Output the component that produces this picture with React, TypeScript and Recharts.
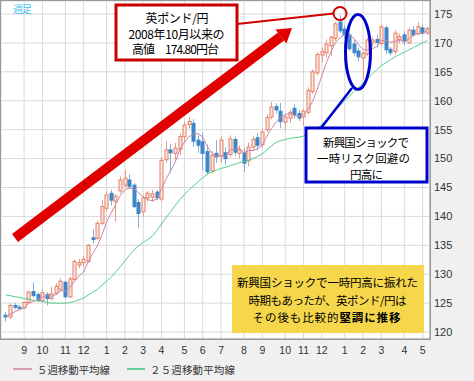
import React from 'react';
import { ComposedChart, Bar, Line, XAxis, YAxis, CartesianGrid } from 'recharts';

const weeks = [
  '12/08/06','12/08/13','12/08/20','12/08/27','12/09/03','12/09/10','12/09/17','12/09/24','12/10/01','12/10/08',
  '12/10/15','12/10/22','12/10/29','12/11/05','12/11/12','12/11/19','12/11/26','12/12/03','12/12/10','12/12/17',
  '12/12/24','12/12/31','13/01/07','13/01/14','13/01/21','13/01/28','13/02/04','13/02/11','13/02/18','13/02/25',
  '13/03/04','13/03/11','13/03/18','13/03/25','13/04/01','13/04/08','13/04/15','13/04/22','13/04/29','13/05/06',
  '13/05/13','13/05/20','13/05/27','13/06/03','13/06/10','13/06/17','13/06/24','13/07/01','13/07/08','13/07/15',
  '13/07/22','13/07/29','13/08/05','13/08/12','13/08/19','13/08/26','13/09/02','13/09/09','13/09/16','13/09/23',
  '13/09/30','13/10/07','13/10/14','13/10/21','13/10/28','13/11/04','13/11/11','13/11/18','13/11/25','13/12/02',
  '13/12/09','13/12/16','13/12/23','13/12/30','14/01/06','14/01/13','14/01/20','14/01/27','14/02/03','14/02/10',
  '14/02/17','14/02/24','14/03/03','14/03/10','14/03/17','14/03/24','14/03/31','14/04/07','14/04/14','14/04/21',
  '14/04/28','14/05/05','14/05/12'
];

const opens = [
  122.9,122.6,124.6,124.3,124.2,125.1,127.0,126.5,125.4,126.5,
  125.8,126.7,127.4,128.6,126.1,129.1,131.6,132.0,132.2,136.3,
  136.2,138.8,141.4,144.0,142.6,144.4,145.4,146.3,145.4,142.4,
  140.8,143.2,143.3,144.2,143.0,149.8,151.5,150.9,151.6,153.8,
  155.9,156.1,153.2,152.9,151.2,147.9,150.9,150.4,151.0,150.7,
  153.3,150.9,151.0,149.6,152.0,153.6,152.4,155.0,157.2,159.0,
  158.2,156.3,157.0,158.7,157.8,157.2,158.0,161.6,164.8,167.9,
  168.3,169.5,170.8,173.6,172.4,171.4,169.8,168.6,167.4,168.1,
  170.1,170.6,169.9,172.6,168.9,168.5,170.6,171.4,170.0,172.2,
  171.6,172.6,171.7
];

const highs = [
  123.4,124.9,125.0,124.7,125.3,127.2,128.6,126.8,127.4,126.9,
  127.8,128.4,129.3,128.9,129.6,132.5,132.7,133.2,135.2,137.7,
  139.3,142.9,144.3,144.6,143.9,146.9,148.0,147.3,145.8,143.0,
  143.6,144.4,144.6,144.6,150.2,153.1,152.5,152.7,154.3,156.4,
  157.2,156.8,154.0,154.4,152.4,151.3,153.2,153.9,152.0,154.0,
  153.8,152.3,151.8,152.8,154.0,154.4,155.0,157.7,159.8,159.6,
  159.6,157.7,158.5,159.5,158.4,158.6,162.3,165.4,168.4,169.2,
  170.6,171.2,173.6,174.8,173.0,172.9,170.6,169.2,168.6,170.9,
  171.0,171.4,173.2,173.0,169.3,172.2,171.6,172.0,172.6,172.9,
  173.6,173.1,172.8
];

const lows = [
  121.8,122.3,123.9,123.9,123.9,124.8,126.0,125.2,125.2,124.6,
  125.5,126.4,127.0,125.8,125.9,128.8,131.0,131.2,132.0,135.3,
  136.0,138.5,140.8,141.9,139.1,144.0,145.0,144.8,141.4,137.9,
  139.9,142.6,142.5,142.8,142.5,149.3,147.5,149.8,150.6,152.8,
  155.2,152.0,151.0,148.0,147.2,147.5,149.2,149.3,148.9,150.2,
  150.5,150.0,147.7,148.7,151.3,151.4,152.0,154.6,156.8,157.8,
  155.3,155.0,156.2,156.9,156.5,155.7,157.6,161.2,164.4,166.6,
  167.5,167.8,170.3,171.7,170.8,168.6,167.8,166.8,163.7,167.7,
  169.3,169.2,169.6,168.1,167.8,168.0,169.9,169.6,169.8,171.0,
  171.3,171.3,171.4
];

const closes = [
  122.6,124.6,124.3,124.1,125.1,126.9,126.3,125.5,126.8,125.8,
  126.6,127.9,128.8,126.1,129.2,132.2,132.0,132.6,135.0,136.0,
  138.8,141.7,143.7,142.8,143.5,146.3,146.6,145.2,141.7,140.5,
  143.2,144.0,143.9,143.2,149.7,151.5,151.0,151.8,153.8,155.8,
  156.4,153.0,152.3,150.9,147.7,150.6,150.3,153.2,150.0,153.4,
  151.1,151.5,149.2,152.0,153.3,152.3,154.6,157.1,158.9,158.4,
  156.4,157.2,158.0,157.6,157.0,158.2,161.8,165.0,168.0,168.5,
  169.8,171.0,173.3,172.1,171.4,169.0,168.3,167.6,168.2,170.5,
  170.5,170.1,172.8,168.8,168.3,171.7,171.1,170.4,172.2,171.4,
  172.8,171.7,172.5
];

const ma5 = [
  122.6,123.1,123.5,123.9,124.1,125.0,125.3,125.6,126.1,126.3,
  126.2,126.5,127.2,127.0,127.7,128.8,129.7,130.4,132.2,133.6,
  134.9,136.8,139.0,140.6,142.1,143.6,144.6,144.9,144.7,144.1,
  143.4,142.9,142.7,143.0,144.8,146.5,147.9,149.4,151.6,152.8,
  153.8,154.2,154.3,153.7,152.1,150.9,150.4,150.5,150.4,151.5,
  151.6,151.8,151.0,151.4,151.4,151.7,152.3,153.9,155.2,156.3,
  157.1,157.6,157.8,157.5,157.2,157.6,158.5,159.9,162.0,164.3,
  166.6,168.5,170.1,170.9,171.5,171.4,170.8,169.7,168.9,168.7,
  169.0,169.4,170.4,170.5,170.1,170.3,170.5,170.1,170.7,171.4,
  171.6,171.7,172.1
];

const ma25 = [
  126.4,126.3,126.1,126.0,125.8,125.7,125.5,125.4,125.3,125.1,
  125.0,125.0,125.0,125.0,125.1,125.3,125.6,125.9,126.4,126.9,
  127.4,128.1,128.8,129.5,130.4,131.3,132.3,133.3,134.2,134.9,
  135.5,136.0,136.6,137.6,138.7,139.8,140.8,141.9,142.9,143.8,
  144.6,145.3,146.0,146.7,147.3,147.7,148.0,148.3,148.5,148.8,
  149.0,149.3,149.5,149.7,150.0,150.4,150.8,151.5,152.2,152.8,
  153.1,153.3,153.5,153.6,153.7,153.9,154.2,154.6,155.2,155.9,
  156.7,157.6,158.4,159.2,160.0,160.8,161.6,162.3,163.0,163.8,
  164.6,165.4,166.1,166.6,167.1,167.6,168.0,168.4,168.8,169.2,
  169.6,170.0,170.4
];

const monthTicks = ['12/09/03','12/10/01','12/11/05','12/12/03','13/01/07','13/02/04','13/03/04','13/04/01','13/05/06','13/06/03','13/07/01','13/08/05','13/09/02','13/10/07','13/11/04','13/12/02','14/01/06','14/02/03','14/03/03','14/04/07','14/05/05'];
const monthLabels = ['9','10','11','12','1','2','3','4','5','6','7','8','9','10','11','12','1','2','3','4','5'];
const priceTicks = [120, 125, 130, 135, 140, 145, 150, 155, 160, 165, 170, 175];

const data = weeks.map((w, i) => ({
  week: w,
  open: opens[i],
  high: highs[i],
  low: lows[i],
  close: closes[i],
  range: [lows[i], highs[i]],
  ma5: ma5[i],
  ma25: ma25[i],
}));

const numFont = '"Liberation Sans", Arial, sans-serif';
const jpFont = '"Noto Sans CJK JP", "Noto Sans", sans-serif';

function Candle(props: any) {
  const { x, y, width, height, payload } = props;
  if (!payload || x == null) return null;
  const { open, close, high, low } = payload;
  const top = Math.min(y, y + height);
  const h = Math.abs(height);
  const k = h / (high - low);
  const yO = top + (high - open) * k;
  const yC = top + (high - close) * k;
  const up = close >= open;
  const cx = Math.round(x + width / 2) + 0.5;
  const bTop = Math.min(yO, yC);
  const bH = Math.max(1, Math.abs(yO - yC));
  return (
    <g>
      <line x1={cx} x2={cx} y1={top} y2={top + h} stroke={up ? '#ec9a86' : '#7eb2e0'} strokeWidth={1} />
      <rect x={cx - 1.5} y={bTop} width={3} height={bH}
        fill={up ? '#fde6de' : '#3f86c8'} stroke={up ? '#e47f66' : '#3f86c8'} strokeWidth={1} />
    </g>
  );
}

export default function App() {
  return (
    <div style={{ position: 'absolute', left: 0, top: 0, width: 474, height: 381, background: '#f0f0f0', overflow: 'hidden' }}>
      <ComposedChart width={474} height={381} data={data} margin={{ top: 1, right: 0, left: 1, bottom: 0 }}>
        <CartesianGrid stroke="#d9d9d9" fill="#ffffff" />
        <XAxis dataKey="week" ticks={monthTicks} interval={0} height={42}
          tickFormatter={(v: string) => monthLabels[monthTicks.indexOf(v)]}
          tickLine={false} axisLine={{ stroke: '#999999' }} tickSize={0} tickMargin={8}
          padding={{ left: 2.5, right: 0.5 }}
          tick={{ fontSize: 10.5, fill: '#333333', fontFamily: numFont }} />
        <YAxis orientation="right" width={44} domain={[118.8, 177.25]} ticks={priceTicks}
          allowDataOverflow tickLine={false} axisLine={{ stroke: '#999999' }} tickSize={0} tickMargin={4}
          tick={{ fontSize: 11, fill: '#333333', fontFamily: numFont }} />
        <Bar dataKey="range" barSize={4} isAnimationActive={false} shape={(p: any) => <Candle {...p} />} />
        <Line dataKey="ma25" stroke="#55cc8c" strokeWidth={1} dot={false} isAnimationActive={false} />
        <Line dataKey="ma5" stroke="#c985a6" strokeWidth={1} dot={false} isAnimationActive={false} />
      </ComposedChart>
      <svg width={474} height={381} style={{ position: 'absolute', left: 0, top: 0, pointerEvents: 'none' }}>
        <rect x={0.5} y={0.5} width={430} height={339} fill="none" stroke="#999999" strokeWidth={1} />
        <text x={13} y={8.5} dominantBaseline="central" fontSize={10} fill="#44c4ee" fontFamily={jpFont} textLength={19}>週足</text>

        <line x1={15} y1={238} x2={281} y2={36.5} stroke="#e00000" strokeWidth={10} />
        <polygon points="292,28 275.4,29.4 286.4,43.6" fill="#e00000" />

        <line x1={237} y1={24} x2={333.5} y2={13.5} stroke="#d00000" strokeWidth={2} />
        <circle cx={340} cy={13.5} r={6.5} fill="none" stroke="#d00000" strokeWidth={2} />

        <rect x={116} y={5} width={121} height={55} fill="#ffffff" stroke="#cc0000" strokeWidth={3} />
        <g fontFamily={jpFont} fontSize={12} fill="#000000" textAnchor="middle" dominantBaseline="central">
          <text x={177} y={17.5} textLength={63}>英ポンド/円</text>
          <text x={176.5} y={33} textLength={96}>2008年10月以来の</text>
          <text x={175.5} y={48.5} textLength={87}>高値　174.80円台</text>
        </g>

        <ellipse cx={358} cy={52} rx={12.5} ry={37.5} fill="none" stroke="#0000cc" strokeWidth={3} />
        <line x1={352} y1={88} x2={321} y2={128} stroke="#0000cc" strokeWidth={2.5} />
        <rect x={306} y={128} width={121} height={54} fill="#ffffff" stroke="#0000cc" strokeWidth={3} />
        <g fontFamily={jpFont} fontSize={11.5} fill="#000000" textAnchor="middle" dominantBaseline="central">
          <text x={366} y={141.5} textLength={86}>新興国ショックで</text>
          <text x={363.5} y={158} textLength={93}>一時リスク回避の</text>
          <text x={366.5} y={173.5} textLength={33}>円高に</text>
        </g>

        <rect x={232} y={265} width={192} height={68} fill="#f6d74c" />
        <g fontFamily={jpFont} fontSize={11.5} fill="#000000" textAnchor="middle" dominantBaseline="central">
          <text x={327.5} y={282} textLength={181}>新興国ショックで一時円高に振れた</text>
          <text x={327.5} y={300} textLength={158}>時期もあったが、英ポンド/円は</text>
          <text x={327} y={317} letterSpacing={0.9}>その後も比較的<tspan fontWeight="bold">堅調に推移</tspan></text>
        </g>

        <line x1={13} y1={369} x2={32} y2={369} stroke="#d59bb7" strokeWidth={2} />
        <text x={37} y={369} dominantBaseline="central" fontSize={10.5} fill="#333333" fontFamily={jpFont} textLength={73}>５週移動平均線</text>
        <line x1={127} y1={369} x2={145} y2={369} stroke="#66d19e" strokeWidth={2} />
        <text x={150} y={369} dominantBaseline="central" fontSize={10.5} fill="#333333" fontFamily={jpFont} textLength={85}>２５週移動平均線</text>
      </svg>
    </div>
  );
}
